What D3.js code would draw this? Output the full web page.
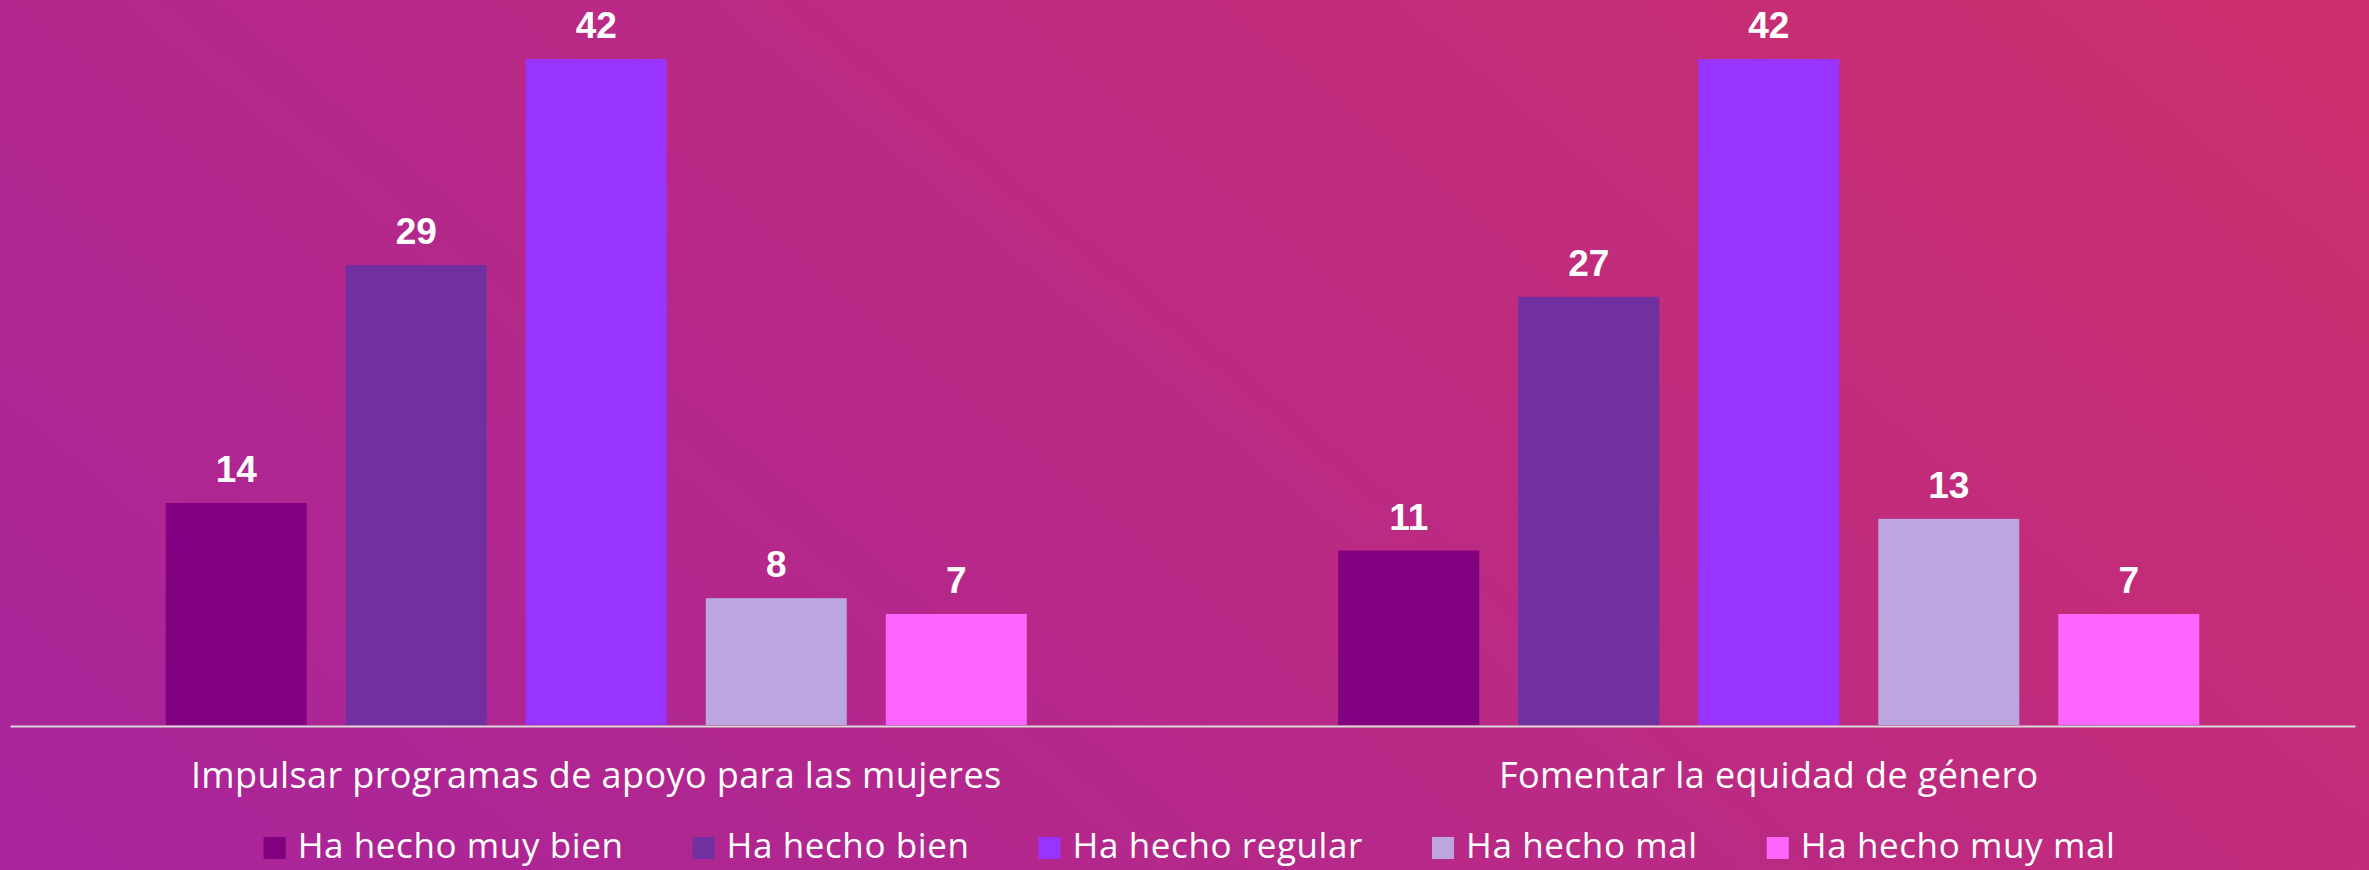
<!DOCTYPE html>
<html>
<head>
<meta charset="utf-8">
<script src="https://cdn.jsdelivr.net/npm/d3@7"></script>
<style>
  html, body { margin: 0; padding: 0; background: #b8288a; }
  svg { display: block; }
</style>
</head>
<body>
<svg id="chart" width="2369" height="870"></svg>
<script>
const categories = ["Impulsar programas de apoyo para las mujeres", "Fomentar la equidad de género"];
const seriesNames = ["Ha hecho muy bien", "Ha hecho bien", "Ha hecho regular", "Ha hecho mal", "Ha hecho muy mal"];
const seriesColors = ["#800080", "#7030A0", "#9933FF", "#BBA6E0", "#FF66FF"];
const muyBien = [14, 11];
const bien = [29, 27];
const regular = [42, 42];
const mal = [8, 13];
const muyMal = [7, 7];
const seriesValues = [muyBien, bien, regular, mal, muyMal];

const W = 2369, H = 870;
const svg = d3.select("#chart");

// background gradient
const defs = svg.append("defs");
const grad = defs.append("linearGradient").attr("id", "bg")
  .attr("gradientUnits", "userSpaceOnUse")
  .attr("x1", 0).attr("y1", 870).attr("x2", 1414).attr("y2", -805);
grad.append("stop").attr("offset", "0%").attr("stop-color", "#a8249c");
grad.append("stop").attr("offset", "100%").attr("stop-color", "#cc2f6c");
svg.append("rect").attr("width", W).attr("height", H).attr("fill", "url(#bg)");

const x0 = d3.scaleBand().domain(categories).range([10, 2355]).padding(0);
const x1 = d3.scaleBand().domain(seriesNames).range([-450, 450]).paddingInner(0.2167).paddingOuter(0.108);
const y = d3.scaleLinear().domain([0, 42]).range([725, 59]);

const groups = svg.selectAll("g.cat").data(categories).join("g")
  .attr("class", "cat")
  .attr("transform", d => `translate(${x0(d) + x0.bandwidth() / 2},0)`);

groups.each(function (cat, ci) {
  const g = d3.select(this);
  const data = seriesNames.map((s, si) => ({ s, v: seriesValues[si][ci], c: seriesColors[si] }));
  g.selectAll("rect").data(data).join("rect")
    .attr("x", d => x1(d.s))
    .attr("width", x1.bandwidth())
    .attr("y", d => y(d.v))
    .attr("height", d => y(0) - y(d.v))
    .attr("fill", d => d.c);
  g.selectAll("text.val").data(data).join("text")
    .attr("class", "val")
    .attr("x", d => x1(d.s) + x1.bandwidth() / 2)
    .attr("y", d => y(d.v) - 21)
    .attr("text-anchor", "middle")
    .attr("fill", "#ffffff")
    .attr("font-family", "Liberation Sans, Arial, sans-serif")
    .attr("font-weight", "bold")
    .attr("font-size", 37)
    .text(d => d.v);
});

// axis baseline and category labels
const xAxis = d3.axisBottom(x0).tickSize(0).tickPadding(0);
const axisG = svg.append("g").attr("transform", "translate(0,726)").call(xAxis);
axisG.select(".domain").attr("stroke", "#d9d9d9").attr("stroke-width", 2);
axisG.selectAll(".tick text")
  .attr("fill", "#ffffff")
  .attr("font-family", "Open Sans, sans-serif")
  .attr("font-size", 36)
  .attr("letter-spacing", 0.4)
  .attr("dy", null)
  .attr("y", 62);

// legend
const legend = svg.append("g");
const items = legend.selectAll("g").data(seriesNames).join("g");
items.append("rect").attr("width", 22).attr("height", 22).attr("y", 837)
  .attr("fill", (d, i) => seriesColors[i]);
items.append("text").attr("x", 34).attr("y", 858)
  .attr("fill", "#ffffff")
  .attr("font-family", "Open Sans, sans-serif")
  .attr("font-size", 35)
  .attr("letter-spacing", 0.6)
  .text(d => d);
let widths = [];
items.each(function () { widths.push(34 + d3.select(this).select("text").node().getComputedTextLength()); });
const gap = 69;
const total = d3.sum(widths) + gap * (widths.length - 1);
let cx = 1189.5 - total / 2;
items.each(function (d, i) {
  d3.select(this).attr("transform", `translate(${cx},0)`);
  cx += widths[i] + gap;
});
</script>
</body>
</html>
